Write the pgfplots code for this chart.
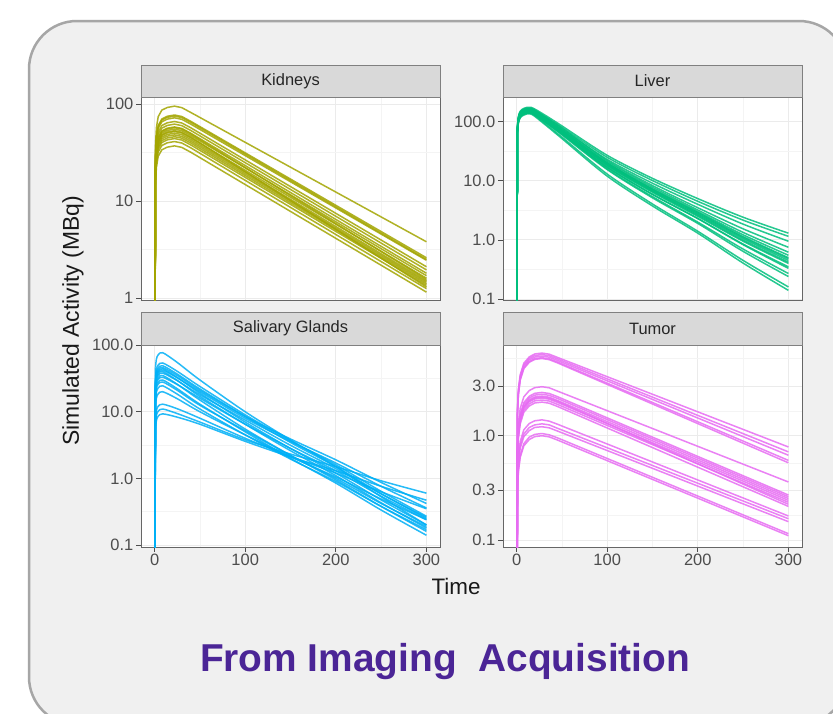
\documentclass[border=0pt]{standalone}
\usepackage{pgfplots}
\usepackage{pgfplotstable}
\usepackage{fontspec}
\setmainfont{Liberation Sans}
\pgfplotsset{compat=1.18}
\definecolor{kidc}{HTML}{A3A500}
\definecolor{livc}{HTML}{00BF7D}
\definecolor{salc}{HTML}{00B0F6}
\definecolor{tumc}{HTML}{E76BF3}
\definecolor{boxfill}{HTML}{F0F0F0}
\definecolor{boxdraw}{HTML}{A6A6A6}
\definecolor{stripfill}{HTML}{D9D9D9}
\definecolor{stripdraw}{HTML}{808080}
\definecolor{panelbd}{HTML}{666666}
\definecolor{ticklab}{HTML}{4D4D4D}
\definecolor{titlecol}{HTML}{4B2596}
\definecolor{gridmaj}{HTML}{EBEBEB}
\definecolor{gridmin}{HTML}{F4F4F4}

% Kidneys
\pgfplotstableread{
t k1 k2 k3 k4 k5 k6 k7 k8 k9 k10 k11 k12 k13 k14 k15 k16 k17
0 0.01 0.01 0.01 0.01 0.01 0.01 0.01 0.01 0.01 0.01 0.01 0.01 0.01 0.01 0.01 0.01 0.01
1 38 30.8 28.8 26.4 24.8 23.2 22 20.8 20 19.2 18.4 17.6 16.4 14.8 22.8 21.2 30
2 57 46.2 43.2 39.6 37.2 34.8 33 31.2 30 28.8 27.6 26.4 24.6 22.2 34.2 31.8 45
4 74 60 56.2 51.5 48.4 45.2 42.9 40.6 39 37.4 35.9 34.3 32 28.9 44.5 41.3 58.5
8 86.5 70 65.5 60 56.4 52.8 50 47.3 45.5 43.7 41.9 40 37.3 33.7 51.9 48.2 68.3
14 92 74.7 69.8 64 60.1 56.3 53.4 50.4 48.5 46.6 44.6 42.7 39.8 35.9 55.3 51.4 72.8
22 95 77 72 66 62 58 55 52 50 48 46 44 41 37 57 53 75
30 91.7 74.3 69.5 63.7 59.8 56 53.1 50.2 48.3 46.3 44.4 42.5 39.6 35.7 55 51.1 72.4
40 81.7 66.2 61.9 56.8 53.3 49.9 47.3 44.7 43 41.3 39.6 37.8 35.3 31.8 49 45.6 64.5
300 3.8 2.6 2.45 2.1 1.95 1.8 1.7 1.6 1.5 1.45 1.4 1.35 1.25 1.15 1.55 1.3 2.5
}\kid

% Liver
\pgfplotstableread{
t l1 l2 l3 l4 l5 l6 l7 l8 l9 l10 l11 l12 l13 l14 l15 l16 l17
0 0.01 0.01 0.01 0.01 0.01 0.01 0.01 0.01 0.01 0.01 0.01 0.01 0.01 0.01 0.01 0.01 0.01
1 87.5 82.5 80 85 80 77.5 82.5 75 79 72.5 75 70 75 72.5 70 67.5 77.5
2 122.5 115.5 112 119 112 108.5 115.5 105 110.6 101.5 105 98 105 101.5 98 94.5 108.5
4 150.5 141.9 137.6 146.2 137.6 133.3 141.9 129 135.9 124.7 129 120.4 129 124.7 120.4 116.1 133.3
8 168 158.4 153.6 163.2 153.6 148.8 158.4 144 151.7 139.2 144 134.4 144 139.2 134.4 129.6 148.8
16 175 165 160 170 160 155 165 150 158 145 150 140 150 145 140 135 155
30 133 125 120 126 118 114 120 110 114 106 108 102 106 103 97 93 113
50 85 80 75 78 72 70 72 68 68 65 64 62 62 60 55 52 70
100 27 25 23 22 21 20 20 19 18.5 18 17 17 16 15.5 13 12 19.5
150 11.0 10.1 9.1 8.3 7.8 7.35 7.2 6.8 6.6 6.4 5.9 5.9 5.4 5.15 4.05 3.75 7.0
200 5.0 4.5 4.0 3.5 3.2 3.0 2.9 2.7 2.6 2.5 2.3 2.3 2.0 1.9 1.4 1.3 2.8
250 2.42 2.16 1.85 1.54 1.34 1.22 1.14 1.05 0.99 0.95 0.85 0.83 0.70 0.64 0.45 0.405 1.1
300 1.3 1.15 0.95 0.75 0.62 0.55 0.5 0.45 0.42 0.4 0.35 0.33 0.27 0.24 0.16 0.14 0.48
}\liv

% Salivary glands
\pgfplotstableread{
t s1 s2 s3 s4 s5 s6 s7 s8 s9 s10 s11 s12 s13 s14 s15 s16 s17
0 0.01 0.01 0.01 0.01 0.01 0.01 0.01 0.01 0.01 0.01 0.01 0.01 0.01 0.01 0.01 0.01 0.01
1 46.2 32.4 29.4 26.4 24 22.8 21 19.8 18 16.8 14.7 12 7.8 5.6 6.6 25.2 27.6
2 61.6 43.2 39.2 35.2 32 30.4 28 26.4 24 22.4 19.6 16 10.4 7.4 8.8 33.6 36.8
4 71.6 50.2 45.6 40.9 37.2 35.3 32.6 30.7 27.9 26 22.8 18.6 12.1 8.6 10.2 39.1 42.8
9 77 54 49 44 40 38 35 33 30 28 24.5 20 13 9.3 11 42 46
25 55 40.5 36.8 32.7 29.6 29.3 25.9 25.6 22.2 21 18.4 15.7 11.1 8.3 9.4 32.3 35
50 30 24 22 19 17 18 15 16 13 12.5 11 10 8 6.5 7 20 21
100 10 9 8.5 7 6.5 7.5 5.5 6.5 5 5.2 4.5 4.5 4 3.6 3.8 8 8.5
150 3.76 3.68 3.46 2.81 2.6 3.14 2.22 2.82 2.0 2.21 1.95 2.11 2.13 2.1 2.32 3.58 3.9
200 1.5 1.6 1.5 1.2 1.1 1.4 0.95 1.3 0.85 1.0 0.9 1.05 1.2 1.3 1.5 1.7 1.9
250 0.53 0.64 0.59 0.475 0.43 0.585 0.38 0.54 0.335 0.42 0.38 0.49 0.63 0.76 0.92 0.76 0.87
300 0.2 0.27 0.25 0.2 0.18 0.26 0.16 0.24 0.14 0.19 0.17 0.24 0.35 0.47 0.6 0.36 0.42
}\sal

% Tumor
\pgfplotstableread{
t u1 u2 u3 u4 u5 u6 u7 u8 u9 u10 u11 u12 u13 u14 u15 u16 u17 u18
0 0.001 0.001 0.001 0.001 0.001 0.001 0.001 0.001 0.001 0.001 0.001 0.001 0.001 0.001 0.001 0.001 0.001 0.001
1 1.86 1.8 1.74 1.68 1.65 0.885 0.78 0.75 0.72 0.69 0.66 0.63 0.705 0.426 0.39 0.366 0.315 0.3
2 2.79 2.7 2.61 2.52 2.48 1.33 1.17 1.13 1.08 1.04 0.99 0.95 1.06 0.64 0.585 0.55 0.47 0.45
4 3.84 3.72 3.6 3.47 3.41 1.83 1.61 1.55 1.49 1.43 1.36 1.3 1.46 0.88 0.81 0.76 0.65 0.62
8 4.96 4.8 4.64 4.48 4.4 2.36 2.08 2.0 1.92 1.84 1.76 1.68 1.88 1.14 1.04 0.98 0.84 0.8
14 5.70 5.52 5.34 5.15 5.06 2.71 2.39 2.3 2.21 2.12 2.02 1.93 2.16 1.31 1.2 1.12 0.97 0.92
20 6.08 5.88 5.68 5.49 5.39 2.89 2.55 2.45 2.35 2.25 2.16 2.06 2.3 1.39 1.27 1.2 1.03 0.98
28 6.2 6.0 5.8 5.6 5.5 2.95 2.6 2.5 2.4 2.3 2.2 2.1 2.35 1.42 1.3 1.22 1.05 1.0
36 6.05 5.85 5.66 5.46 5.36 2.88 2.54 2.44 2.34 2.24 2.15 2.05 2.29 1.38 1.27 1.19 1.02 0.975
45 5.64 5.46 5.28 5.1 5.0 2.68 2.37 2.28 2.18 2.09 2.0 1.91 2.14 1.29 1.18 1.11 0.955 0.91
300 0.78 0.7 0.65 0.58 0.55 0.36 0.27 0.26 0.25 0.24 0.23 0.21 0.22 0.17 0.16 0.15 0.115 0.11
}\tum

\pgfplotsset{
  every axis/.append style={
    scale only axis, width=299bp, anchor=north west,
    xmin=-15, xmax=315,
    axis background/.style={fill=white},
    xtick={0,100,200,300}, minor xtick={50,150,250},
    grid=both,
    major grid style={draw=gridmaj, line width=0.9bp},
    minor grid style={draw=gridmin, line width=0.5bp},
    axis line style={draw=panelbd, line width=0.8bp},
    tick style={draw=ticklab, line width=0.8bp},
    xtick pos=bottom, ytick pos=left,
    tick align=outside, major tick length=5bp, minor tick length=0pt,
    tick label style={font=\fontsize{16.5}{16.5}\selectfont, text=ticklab},
    yticklabel style={inner sep=2.5bp},
    xticklabel style={inner sep=2bp},
  },
  every axis plot/.append style={line width=1.5bp, opacity=0.85, line join=round},
  rise/.style={skip coords between index={2}{40}},
  fall/.style={skip coords between index={0}{1}, smooth, tension=0.5},
}
\pgfkeys{/pgf/number format/assume math mode=true}

\begin{document}
\begin{tikzpicture}
\useasboundingbox (0,0) rectangle (833bp,-714bp);
\fill[white] (0,0) rectangle (833bp,-714bp);
\begin{scope}
\clip (0,0) rectangle (833bp,-714bp);
\draw[fill=boxfill, draw=boxdraw, line width=2.5bp, rounded corners=48bp] (29bp,-21bp) rectangle (847bp,-725bp);
\end{scope}

% Kidneys
\begin{axis}[ymode=log, at={(141bp,-97bp)}, height=203bp, xticklabels={}, xmajorticks=false,
  ymin=0.954, ymax=118, ytick={1,10,100}, yticklabels={1,10,100}, minor ytick={3.162,31.62}]
\pgfplotsinvokeforeach{1,...,17}{
  \addplot[kidc, mark=none] table[x=t, y=k#1]{\kid};}
\end{axis}

% Liver
\begin{axis}[ymode=log, at={(503bp,-97bp)}, height=203bp, xticklabels={}, xmajorticks=false,
  ymin=0.0962, ymax=262, ytick={0.1,1,10,100}, yticklabels={0.1,1.0,10.0,100.0}, minor ytick={0.3162,3.162,31.62}]
\pgfplotsinvokeforeach{1,...,17}{
  \addplot[livc, mark=none, rise] table[x=t, y=l#1]{\liv};
  \addplot[livc, mark=none, fall] table[x=t, y=l#1]{\liv};}
\end{axis}

% Salivary glands
\begin{axis}[ymode=log, at={(141bp,-345bp)}, height=202bp,
  ymin=0.0933, ymax=100.5, ytick={0.1,1,10,100}, yticklabels={0.1,1.0,10.0,100.0}, minor ytick={0.3162,3.162,31.62}]
\pgfplotsinvokeforeach{1,...,17}{
  \addplot[salc, mark=none, rise] table[x=t, y=s#1]{\sal};
  \addplot[salc, mark=none, fall] table[x=t, y=s#1]{\sal};}
\end{axis}

% Tumor
\begin{axis}[ymode=log, at={(503bp,-345bp)}, height=202bp,
  ymin=0.0857, ymax=7.41, ytick={0.1,0.3,1,3}, yticklabels={0.1,0.3,1.0,3.0}, minor ytick={0.173,0.548,1.733,5.48}]
\pgfplotsinvokeforeach{1,...,18}{
  \addplot[tumc, mark=none] table[x=t, y=u#1]{\tum};}
\end{axis}

% strips
\begin{scope}[line width=0.8bp]
\draw[fill=stripfill, draw=stripdraw] (141bp,-65bp) rectangle (440bp,-97bp);
\draw[fill=stripfill, draw=stripdraw] (503bp,-65bp) rectangle (802bp,-97bp);
\draw[fill=stripfill, draw=stripdraw] (141bp,-312bp) rectangle (440bp,-345bp);
\draw[fill=stripfill, draw=stripdraw] (503bp,-312bp) rectangle (802bp,-345bp);
\end{scope}
\begin{scope}[every node/.style={font=\fontsize{16.5}{16.5}\selectfont, text=black!85}]
\node at (290.5bp,-81bp) {Kidneys};
\node at (652.5bp,-81bp) {Liver};
\node at (290.5bp,-328.5bp) {Salivary Glands};
\node at (652.5bp,-328.5bp) {Tumor};
\end{scope}

\node[rotate=90, font=\fontsize{23}{23}\selectfont, text=black!90] at (73bp,-321bp) {Simulated Activity (MBq)};
\node[anchor=base, font=\fontsize{22.5}{22.5}\selectfont, text=black!90] at (456bp,-594bp) {Time};
\node[anchor=base, font=\fontsize{39}{39}\selectfont\bfseries, text=titlecol, inner sep=0pt] at (445bp,-671bp) {From Imaging\ \ Acquisition};
\end{tikzpicture}
\end{document}
